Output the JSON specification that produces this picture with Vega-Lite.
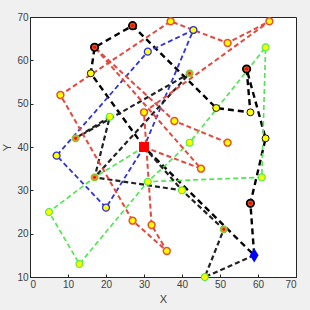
{
  "$schema": "https://vega.github.io/schema/vega-lite/v6.json",
  "width": 266,
  "height": 260,
  "autosize": {"type": "none"},
  "padding": {"left": 30, "top": 17, "right": 14, "bottom": 33},
  "background": "#f0f0f0",
  "config": {
    "view": {"fill": "white", "stroke": "#262626", "strokeWidth": 1},
    "axis": {
      "grid": false,
      "domainColor": "#262626",
      "tickColor": "#262626",
      "labelColor": "#404040",
      "titleColor": "#404040",
      "labelFont": "Liberation Sans",
      "titleFont": "Liberation Sans",
      "labelFontSize": 10,
      "titleFontSize": 11,
      "titleFontWeight": "normal",
      "tickSize": -3
    }
  },
  "datasets": {
    "segs": [
      {"g": "K", "c": "thick", "o": 0, "x": 30, "y": 40},
      {"g": "K", "c": "thick", "o": 1, "x": 16, "y": 57},
      {"g": "K", "c": "thick", "o": 2, "x": 17, "y": 63},
      {"g": "K", "c": "thick", "o": 3, "x": 27, "y": 68},
      {"g": "K", "c": "thick", "o": 4, "x": 49, "y": 49},
      {"g": "K", "c": "thick", "o": 5, "x": 58, "y": 48},
      {"g": "K", "c": "thick", "o": 6, "x": 57, "y": 58},
      {"g": "K", "c": "thick", "o": 7, "x": 62, "y": 42},
      {"g": "K", "c": "thick", "o": 8, "x": 58, "y": 27},
      {"g": "K", "c": "thick", "o": 9, "x": 59, "y": 15},
      {"g": "K", "c": "thick", "o": 10, "x": 30, "y": 40},

      {"g": "G", "c": "green", "o": 0, "x": 30, "y": 40},
      {"g": "G", "c": "green", "o": 1, "x": 17, "y": 33},
      {"g": "G", "c": "green", "o": 2, "x": 5, "y": 25},
      {"g": "G", "c": "green", "o": 3, "x": 13, "y": 13},
      {"g": "G", "c": "green", "o": 4, "x": 31, "y": 32},
      {"g": "G", "c": "green", "o": 5, "x": 61, "y": 33},
      {"g": "G", "c": "green", "o": 6, "x": 62, "y": 63},
      {"g": "G", "c": "green", "o": 7, "x": 42, "y": 41},
      {"g": "G", "c": "green", "o": 8, "x": 31, "y": 32},

      {"g": "B", "c": "blue", "o": 0, "x": 30, "y": 40},
      {"g": "B", "c": "blue", "o": 1, "x": 20, "y": 26},
      {"g": "B", "c": "blue", "o": 2, "x": 7, "y": 38},
      {"g": "B", "c": "blue", "o": 3, "x": 31, "y": 62},
      {"g": "B", "c": "blue", "o": 4, "x": 43, "y": 67},
      {"g": "B", "c": "blue", "o": 5, "x": 30, "y": 40},

      {"g": "T1", "c": "thin", "o": 0, "x": 30, "y": 40},
      {"g": "T1", "c": "thin", "o": 1, "x": 40, "y": 30},
      {"g": "T1", "c": "thin", "o": 2, "x": 17, "y": 33},
      {"g": "T1", "c": "thin", "o": 3, "x": 21, "y": 47},
      {"g": "T1", "c": "thin", "o": 4, "x": 12, "y": 42},
      {"g": "T1", "c": "thin", "o": 5, "x": 42, "y": 57},
      {"g": "T1", "c": "thin", "o": 6, "x": 17, "y": 33},
      {"g": "T2", "c": "thin", "o": 0, "x": 59, "y": 15},
      {"g": "T2", "c": "thin", "o": 1, "x": 46, "y": 10},
      {"g": "T2", "c": "thin", "o": 2, "x": 51, "y": 21},
      {"g": "T2", "c": "thin", "o": 3, "x": 40, "y": 30},

      {"g": "R1", "c": "red", "o": 0, "x": 27, "y": 23},
      {"g": "R1", "c": "red", "o": 1, "x": 8, "y": 52},
      {"g": "R1", "c": "red", "o": 2, "x": 37, "y": 69},
      {"g": "R1", "c": "red", "o": 3, "x": 52, "y": 64},
      {"g": "R1", "c": "red", "o": 4, "x": 63, "y": 69},
      {"g": "R1", "c": "red", "o": 5, "x": 30, "y": 48},
      {"g": "R1", "c": "red", "o": 6, "x": 32, "y": 22},
      {"g": "R1", "c": "red", "o": 7, "x": 36, "y": 16},
      {"g": "R1", "c": "red", "o": 8, "x": 27, "y": 23},
      {"g": "R2", "c": "red", "o": 0, "x": 30, "y": 40},
      {"g": "R2", "c": "red", "o": 1, "x": 45, "y": 35},
      {"g": "R2", "c": "red", "o": 2, "x": 17, "y": 63},
      {"g": "R2", "c": "red", "o": 3, "x": 38, "y": 46},
      {"g": "R2", "c": "red", "o": 4, "x": 52, "y": 41}
    ],
    "pts": [
      {"t": "yr", "x": 37, "y": 69}, {"t": "yr", "x": 63, "y": 69}, {"t": "yr", "x": 52, "y": 64},
      {"t": "yr", "x": 8, "y": 52}, {"t": "yr", "x": 30, "y": 48}, {"t": "yr", "x": 38, "y": 46},
      {"t": "yr", "x": 52, "y": 41}, {"t": "yr", "x": 45, "y": 35}, {"t": "yr", "x": 27, "y": 23},
      {"t": "yr", "x": 32, "y": 22}, {"t": "yr", "x": 36, "y": 16},
      {"t": "yb", "x": 31, "y": 62}, {"t": "yb", "x": 43, "y": 67}, {"t": "yb", "x": 7, "y": 38},
      {"t": "yb", "x": 20, "y": 26},
      {"t": "yg", "x": 21, "y": 47}, {"t": "yg", "x": 62, "y": 63}, {"t": "yg", "x": 42, "y": 41},
      {"t": "yg", "x": 61, "y": 33}, {"t": "yg", "x": 40, "y": 30}, {"t": "yg", "x": 31, "y": 32},
      {"t": "yg", "x": 5, "y": 25}, {"t": "yg", "x": 13, "y": 13}, {"t": "yg", "x": 46, "y": 10},
      {"t": "yk", "x": 16, "y": 57}, {"t": "yk", "x": 49, "y": 49}, {"t": "yk", "x": 58, "y": 48},
      {"t": "yk", "x": 62, "y": 42}
    ],
    "sats": [
      {"x": 27, "y": 68}, {"x": 17, "y": 63}, {"x": 57, "y": 58}, {"x": 58, "y": 27}
    ],
    "stars": [
      {"x": 42, "y": 57}, {"x": 12, "y": 42}, {"x": 17, "y": 33}, {"x": 51, "y": 21}
    ],
    "sq": [{"x": 30, "y": 40}],
    "dm": [{"x": 59, "y": 15}]
  },
  "encoding": {
    "x": {"field": "x", "type": "quantitative", "scale": {"domain": [0, 70], "nice": false, "zero": false},
          "axis": {"values": [0, 10, 20, 30, 40, 50, 60, 70], "title": "X", "labelPadding": 5, "titlePadding": 4}},
    "y": {"field": "y", "type": "quantitative", "scale": {"domain": [10, 70], "nice": false, "zero": false},
          "axis": {"values": [10, 20, 30, 40, 50, 60, 70], "title": "Y", "labelPadding": 5, "titlePadding": 4}}
  },
  "layer": [
    {
      "data": {"name": "segs"},
      "mark": {"type": "line", "clip": true},
      "encoding": {
        "detail": {"field": "g"},
        "order": {"field": "o", "type": "quantitative"},
        "color": {"field": "c", "type": "nominal", "legend": null,
                  "scale": {"domain": ["thick", "thin", "red", "blue", "green"], "range": ["#000000", "#222222", "#e24a3f", "#3434d6", "#4ce84c"]}},
        "strokeWidth": {"field": "c", "type": "nominal", "legend": null,
                  "scale": {"domain": ["thick", "thin", "red", "blue", "green"], "range": [2.4, 0.9, 1, 1, 1.1]}},
        "strokeDash": {"field": "c", "type": "nominal", "legend": null,
                  "scale": {"domain": ["thick", "thin", "red", "blue", "green"], "range": [[6, 4], [5, 3], [5, 3], [5, 3], [5, 3]]}}
      }
    },
    {
      "data": {"name": "pts"},
      "mark": {"type": "point", "shape": "circle", "filled": false, "fill": "#ffff00", "size": 48, "opacity": 1, "fillOpacity": 1},
      "encoding": {
        "stroke": {"field": "t", "type": "nominal", "legend": null,
                   "scale": {"domain": ["yr", "yb", "yg", "yk"], "range": ["#e8502a", "#3030d8", "#44ee44", "#000000"]}},
        "strokeWidth": {"field": "t", "type": "nominal", "legend": null,
                   "scale": {"domain": ["yr", "yb", "yg", "yk"], "range": [1.4, 1.4, 1.4, 2.2]}}
      }
    },
    {
      "data": {"name": "sats"},
      "mark": {"type": "point", "shape": "circle", "filled": true, "color": "#d9531e", "stroke": "#000000", "strokeWidth": 1.8, "size": 55, "opacity": 1}
    },
    {
      "data": {"name": "sats"},
      "mark": {"type": "point", "shape": "circle", "filled": true, "color": "#ff0000", "size": 8, "opacity": 1}
    },
    {
      "data": {"name": "stars"},
      "mark": {"type": "point", "shape": "cross", "filled": true, "color": "#8cc43a", "size": 60, "opacity": 1}
    },
    {
      "data": {"name": "stars"},
      "mark": {"type": "point", "shape": "cross", "angle": 45, "filled": true, "color": "#8cc43a", "size": 60, "opacity": 1}
    },
    {
      "data": {"name": "stars"},
      "mark": {"type": "point", "shape": "circle", "filled": true, "color": "#e0902a", "size": 26, "opacity": 1}
    },
    {
      "data": {"name": "stars"},
      "mark": {"type": "point", "shape": "circle", "filled": true, "color": "#ff0000", "size": 7, "opacity": 1}
    },
    {
      "data": {"name": "sq"},
      "mark": {"type": "point", "shape": "square", "filled": true, "color": "#ff0000", "size": 100, "opacity": 1}
    },
    {
      "data": {"name": "dm"},
      "mark": {"type": "point", "shape": "M0,-1L0.62,0L0,1L-0.62,0Z", "filled": true, "color": "#0000ff", "size": 200, "opacity": 1}
    }
  ]
}
